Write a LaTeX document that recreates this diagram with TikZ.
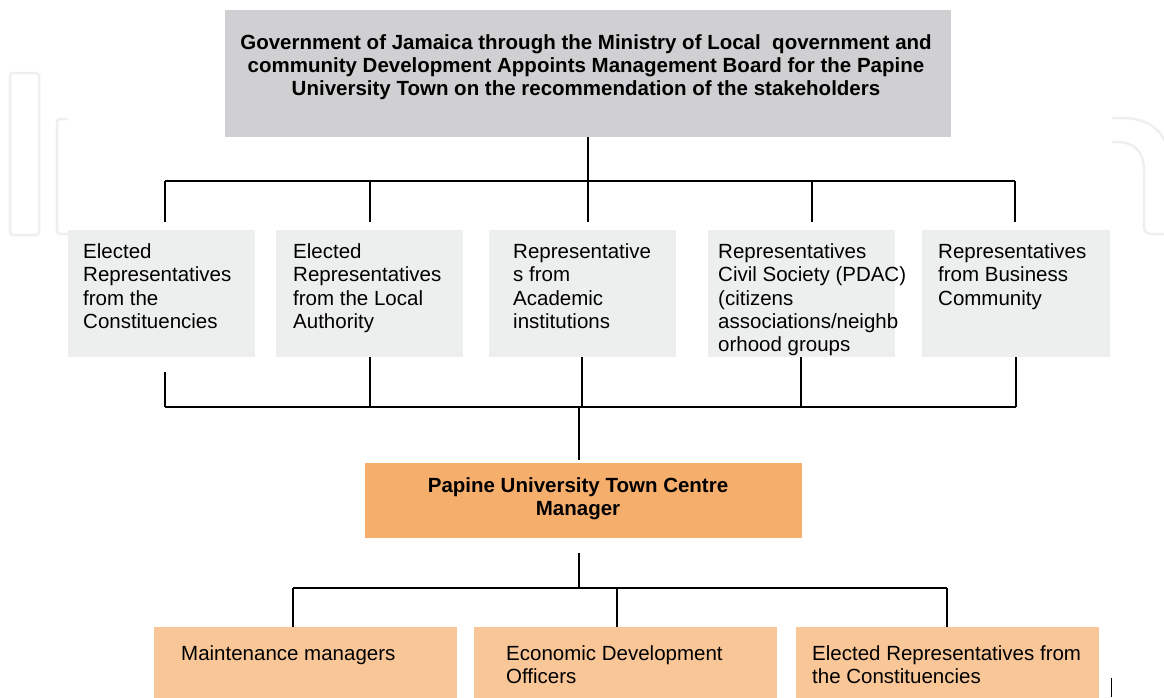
\documentclass[tikz,border=0pt]{standalone}
\usepackage{fontspec}
\setmainfont{Liberation Sans}
\definecolor{topgray}{HTML}{D0D0D2}
\definecolor{midgray}{HTML}{EDEEEE}
\definecolor{mgrorange}{HTML}{F6AE6C}
\definecolor{lightorange}{HTML}{F9C698}
\definecolor{wmark}{HTML}{EFEFEF}
\newcommand\myfs{\fontsize{20.5}{23.3}\selectfont}
\begin{document}
\begin{tikzpicture}[x=1pt,y=-1pt,
  box/.style={rectangle, inner sep=0pt, anchor=north west, draw=none},
  topbox/.style={box, fill=topgray},
  midbox/.style={box, fill=midgray, minimum height=127pt},
  mgrbox/.style={box, fill=mgrorange},
  lowbox/.style={box, fill=lightorange, minimum height=80pt, minimum width=303pt},
  btext/.style={inner sep=0pt, align=center, font=\myfs\bfseries},
  ltext/.style={inner sep=0pt, align=left, anchor=north west, font=\myfs},
  conn/.style={draw=black, line width=1.6pt},
  thickconn/.style={draw=black, line width=2.6pt},
  wm/.style={draw=wmark, line width=2.5pt, line cap=round, line join=round}
]
\useasboundingbox (0,0) rectangle (1164,697);
\fill[white] (0,0) rectangle (1164,697);

% faint watermark
\draw[wm, rounded corners=3pt] (10,73) rectangle (39,235);
\draw[wm, rounded corners=3pt] (67,119) -- (57,119) -- (57,234) -- (67,234);
\draw[wm] (1113,118) -- (1122,118) .. controls (1148,118) and (1163,130) .. (1168,150);
\draw[wm] (1113,142) -- (1118,142) .. controls (1134,142) and (1144,152) .. (1144,170)
  -- (1144,226) .. controls (1144,231) and (1146,234) .. (1152,234) -- (1168,234);

% top box
\node[topbox, minimum width=726pt, minimum height=127pt] (top) at (225,10) {};
\node[btext] (toptxt) at (586,67) {Government of Jamaica through the Ministry of Local~ qovernment and\\
community Development Appoints Management Board for the Papine\\
University Town on the recommendation of the stakeholders};

% middle boxes
\node[midbox, minimum width=187pt] (m1) at (68,230) {};
\node[midbox, minimum width=187pt] (m2) at (276,230) {};
\node[midbox, minimum width=187pt] (m3) at (489,230) {};
\node[midbox, minimum width=187pt] (m4) at (708,230) {};
\node[midbox, minimum width=188pt] (m5) at (922,230) {};

\node[ltext] (t1) at ([xshift=15pt,yshift=-13.5pt]m1.north west) {Elected\\Representatives\\from the\\Constituencies};
\node[ltext] (t2) at ([xshift=17pt,yshift=-13.5pt]m2.north west) {Elected\\Representatives\\from the Local\\Authority};
\node[ltext] (t3) at ([xshift=24pt,yshift=-13.5pt]m3.north west) {Representative\\s from\\Academic\\institutions};
\node[ltext] (t4) at ([xshift=10pt,yshift=-13.5pt]m4.north west) {Representatives\\Civil Society (PDAC)\\(citizens\\associations/neighb\\orhood groups};
\node[ltext] (t5) at ([xshift=16pt,yshift=-13.5pt]m5.north west) {Representatives\\from Business\\Community};

% top connectors
\coordinate (d1) at (165,181);
\coordinate (d2) at (370,181);
\coordinate (d4) at (812,181);
\coordinate (d5) at (1015,181);
\draw[conn] (d1) -- (d5);
\draw[conn, shorten >=8pt] (top.south) -- (top.south |- m3.north);
\foreach \i in {1,2,4,5} {
  \draw[conn, shorten >=8pt] (d\i) -- (d\i |- m\i.north);
}

% manager box
\node[mgrbox, minimum width=437pt, minimum height=75pt] (mgr) at (365,463) {};
\node[btext] (mgrtxt) at (578,498.5) {Papine University Town Centre\\Manager};

% lower connectors
\coordinate (l1) at (165,407);
\coordinate (l2) at (370,407);
\coordinate (l3) at (582,407);
\coordinate (l4) at (801,407);
\coordinate (l5) at (1016,407);
\coordinate (lc) at (579,407);
\draw[conn, shorten <=15pt] (m1.south -| l1) -- (l1);
\foreach \i in {2,3,4,5} {
  \draw[conn, line width=1.3pt] (m\i.south -| l\i) -- (l\i);
}
\draw[conn] (l1) -- (l5);
\draw[thickconn] (l2) -- (lc);
\draw[thickconn, shorten >=3pt] (lc) -- (lc |- mgr.north);

% bottom boxes
\node[lowbox] (bA) at (154,627) {};
\node[lowbox] (bB) at (474,627) {};
\node[lowbox] (bC) at (796,627) {};
\node[ltext] (tA) at ([xshift=27pt,yshift=-18.5pt]bA.north west) {Maintenance managers};
\node[ltext] (tB) at ([xshift=32pt,yshift=-18.5pt]bB.north west) {Economic Development\\Officers};
\node[ltext] (tC) at ([xshift=16pt,yshift=-18.5pt]bC.north west) {Elected Representatives from\\the Constituencies};

\coordinate (mc) at (579,588);
\coordinate (eA) at (293,588);
\coordinate (eB) at (617,588);
\coordinate (eC) at (947,588);
\draw[conn, shorten <=15pt] (mgr.south -| mc) -- (mc);
\draw[conn] (eA) -- (eC);
\draw[conn] (eA) -- (eA |- bA.north);
\draw[conn] (eB) -- (eB |- bB.north);
\draw[conn] (eC) -- (eC |- bC.north);

% stray mark
\coordinate (s1) at (1111,678);
\coordinate (s2) at (1111,697);
\draw[line width=1pt] (s1) -- (s2);
\end{tikzpicture}
\end{document}
